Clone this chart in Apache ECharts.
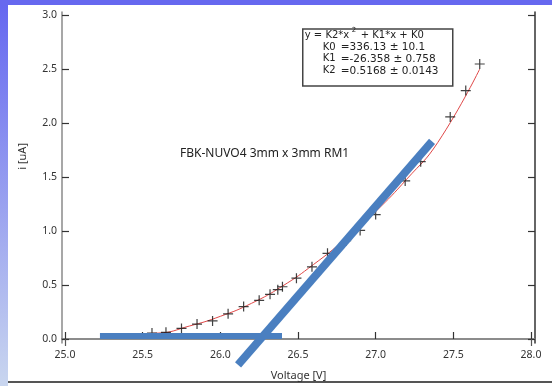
<!DOCTYPE html>
<html>
<head>
<meta charset="utf-8">
<script src="https://cdn.jsdelivr.net/npm/echarts@6/dist/echarts.min.js"></script>
<style>
html,body{margin:0;padding:0;background:#fff;}
#c{width:552px;height:386px;}
</style>
</head>
<body>
<div id="c"></div>
<script>
// ---- data ----
const xTicks = [25.0, 25.5, 26.0, 26.5, 27.0, 27.5, 28.0];
const yTicks = [0.0, 0.5, 1.0, 1.5, 2.0, 2.5, 3.0];
const topTicks = [25.0, 28.0];

// measured points (+ markers)
const voltage = [25.56, 25.65, 25.75, 25.85, 25.95, 26.05, 26.15, 26.25, 26.32, 26.37, 26.40, 26.49, 26.59, 26.69, 26.81, 26.90, 27.00, 27.19, 27.29, 27.48, 27.58, 27.67];
const current = [0.055, 0.062, 0.098, 0.138, 0.168, 0.233, 0.300, 0.358, 0.414, 0.457, 0.484, 0.563, 0.668, 0.793, 0.91, 1.005, 1.152, 1.464, 1.642, 2.056, 2.300, 2.546];

// red fitted curve
const fitX = [25.46, 25.6, 25.8, 26.0, 26.2, 26.4, 26.6, 26.8, 27.0, 27.2, 27.4, 27.67];
const fitY = [0.05, 0.055, 0.12, 0.21, 0.33, 0.49, 0.69, 0.92, 1.18, 1.48, 1.82, 2.50];

// hand-drawn blue guide lines
const flatX = [25.225, 26.397];
const flatY = [0.028, 0.028];
const slopeX = [26.114, 27.363];
const slopeY = [-0.239, 1.829];

const titleText = 'FBK-NUVO4 3mm x 3mm RM1';
const fitNames = ['K0', 'K1', 'K2'];
const fitValues = ['=336.13', '=-26.358', '=0.5168'];
const fitErrors = ['10.1', '0.758', '0.0143'];

const FONT = '"Noto Sans", "Open Sans", sans-serif';
const BOXFONT = '"DejaVu Sans", sans-serif';
const chart = echarts.init(document.getElementById('c'), null, {renderer: 'canvas'});

const zip = (a, b) => a.map((v, i) => [v, b[i]]);
const plusPath = 'path://M4.4,0h1.2v10h-1.2z M0,4.4h10v1.2h-10z';

chart.setOption({
  animation: false,
  backgroundColor: '#ffffff',
  grid: {left: 62, right: 17, top: 12, bottom: 40, containLabel: false},
  xAxis: [{
    type: 'value', position: 'bottom',
    min: 24.9807, max: 28.0258,
    splitLine: {show: false},
    axisLine: {show: true, lineStyle: {color: '#333', width: 1.5}},
    axisTick: {show: true, inside: true, length: 7, customValues: xTicks, lineStyle: {color: '#333', width: 1.2}},
    axisLabel: {show: true, customValues: xTicks, margin: 7, formatter: v => v.toFixed(1), color: '#333', fontSize: 10.5, fontFamily: FONT},
    name: 'Voltage [V]', nameLocation: 'middle', nameGap: 27,
    nameTextStyle: {color: '#333', fontSize: 11, fontFamily: FONT}
  }, {
    type: 'value', position: 'top',
    min: 24.9807, max: 28.0258,
    splitLine: {show: false},
    axisLine: {show: true, lineStyle: {color: '#999', width: 1.5}},
    axisTick: {show: true, inside: true, length: 7, customValues: topTicks, lineStyle: {color: '#555', width: 1.2}},
    axisLabel: {show: false}
  }],
  yAxis: [{
    type: 'value', position: 'left',
    min: -0.0368, max: 3.0276,
    splitLine: {show: false},
    axisLine: {show: true, lineStyle: {color: '#8a8a8a', width: 1.5}},
    axisTick: {show: true, inside: true, length: 7, customValues: yTicks, lineStyle: {color: '#333', width: 1.2}},
    axisLabel: {show: true, customValues: yTicks, margin: 5, formatter: v => v.toFixed(1), color: '#333', fontSize: 10.5, fontFamily: FONT}
  }, {
    type: 'value', position: 'right',
    min: -0.0368, max: 3.0276,
    splitLine: {show: false},
    axisLine: {show: true, lineStyle: {color: '#333', width: 1.5}},
    axisTick: {show: true, inside: true, length: 7, customValues: yTicks, lineStyle: {color: '#333', width: 1.2}},
    axisLabel: {show: false}
  }],
  series: [{
    type: 'line', name: 'fit', data: zip(fitX, fitY), smooth: true,
    showSymbol: false, symbol: 'none',
    lineStyle: {color: '#e04848', width: 1}, z: 2
  }, {
    type: 'scatter', name: 'data', data: zip(voltage, current),
    symbol: plusPath, symbolSize: 10,
    itemStyle: {color: '#111'}, z: 3
  }, {
    type: 'line', name: 'flat', data: zip(flatX, flatY), symbol: 'none',
    clip: false,
    lineStyle: {color: '#4a7fc0', width: 6, cap: 'butt'}, z: 4
  }, {
    type: 'line', name: 'slope', data: zip(slopeX, slopeY), symbol: 'none',
    clip: false,
    lineStyle: {color: '#4a7fc0', width: 8, cap: 'butt'}, z: 4
  }],
  graphic: [
    {type: 'rect', left: 0, top: 0, z: -10, silent: true,
     shape: {width: 8, height: 386},
     style: {fill: new echarts.graphic.LinearGradient(0, 0, 0, 1, [
       {offset: 0, color: '#6466f0'}, {offset: 1, color: '#c9d6ef'}])}},
    {type: 'rect', left: 0, top: 0, z: -10, silent: true,
     shape: {width: 552, height: 5}, style: {fill: '#6668ef'}},
    {type: 'rect', left: 8, top: 381, z: -10, silent: true,
     shape: {width: 544, height: 2}, style: {fill: '#555'}},
    {type: 'text', left: 17, top: 143, rotation: Math.PI / 2, silent: true,
     style: {text: 'i [uA]', fill: '#333', font: '11px ' + FONT}},
    {type: 'text', left: 180, top: 148, silent: true,
     style: {text: titleText, fill: '#222', font: '12px ' + FONT}},
    {type: 'group', left: 302, top: 27, children: [
      {type: 'rect', shape: {x: 0, y: 0, width: 150, height: 57},
       style: {fill: '#fff', stroke: '#444', lineWidth: 1.5}},
      {type: 'text', x: 2, y: 1,
       style: {text: 'y = K2*x', fill: '#222', font: '10px ' + BOXFONT}},
      {type: 'text', x: 49, y: -2,
       style: {text: '2', fill: '#222', font: '7px ' + BOXFONT}},
      {type: 'text', x: 58, y: 1,
       style: {text: '+ K1*x + K0', fill: '#222', font: '10px ' + BOXFONT}},
    ].concat(fitNames.flatMap((n, i) => [
      {type: 'text', x: 20, y: 13 + i * 11.7, style: {text: n, fill: '#222', font: '10px ' + BOXFONT}},
      {type: 'text', x: 38, y: 13 + i * 11.7, style: {text: fitValues[i] + ' \u00b1 ' + fitErrors[i], fill: '#222', font: '10.5px ' + BOXFONT}}
    ]))}
  ]
});
</script>
</body>
</html>
